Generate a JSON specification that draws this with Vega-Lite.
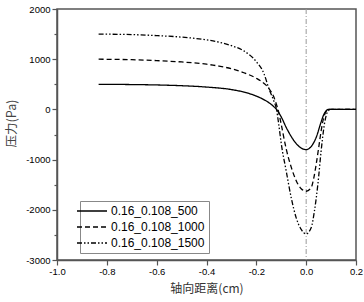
{
  "$schema": "https://vega.github.io/schema/vega-lite/v6.json",
  "width": 299,
  "height": 251,
  "autosize": {"type": "none"},
  "padding": {"left": 57, "top": 9, "right": 8, "bottom": 42},
  "config": {
    "view": {"stroke": "#555", "strokeWidth": 1.5},
    "font": "Liberation Sans"
  },
  "layer": [
    {
      "data": {"values": [{"x": 0}]},
      "mark": {"type": "rule", "color": "#999", "strokeWidth": 1, "strokeDash": [5, 2, 1, 2]},
      "encoding": {
        "x": {"field": "x", "type": "quantitative", "scale": {"domain": [-1, 0.2], "nice": false}}
      }
    },
    {
      "data": {"values": [
        {"series": "0.16_0.108_500", "x": -0.833, "p": 500},
        {"series": "0.16_0.108_500", "x": -0.7, "p": 495},
        {"series": "0.16_0.108_500", "x": -0.6, "p": 487},
        {"series": "0.16_0.108_500", "x": -0.5, "p": 472},
        {"series": "0.16_0.108_500", "x": -0.4, "p": 445},
        {"series": "0.16_0.108_500", "x": -0.3, "p": 395},
        {"series": "0.16_0.108_500", "x": -0.25, "p": 345},
        {"series": "0.16_0.108_500", "x": -0.2, "p": 265},
        {"series": "0.16_0.108_500", "x": -0.17, "p": 195},
        {"series": "0.16_0.108_500", "x": -0.15, "p": 135},
        {"series": "0.16_0.108_500", "x": -0.13, "p": 55},
        {"series": "0.16_0.108_500", "x": -0.12, "p": 5},
        {"series": "0.16_0.108_500", "x": -0.1, "p": -150},
        {"series": "0.16_0.108_500", "x": -0.08, "p": -360},
        {"series": "0.16_0.108_500", "x": -0.06, "p": -540},
        {"series": "0.16_0.108_500", "x": -0.04, "p": -680},
        {"series": "0.16_0.108_500", "x": -0.02, "p": -770},
        {"series": "0.16_0.108_500", "x": 0, "p": -800},
        {"series": "0.16_0.108_500", "x": 0.02, "p": -740},
        {"series": "0.16_0.108_500", "x": 0.04, "p": -560},
        {"series": "0.16_0.108_500", "x": 0.06, "p": -250},
        {"series": "0.16_0.108_500", "x": 0.07, "p": -110},
        {"series": "0.16_0.108_500", "x": 0.08, "p": -30},
        {"series": "0.16_0.108_500", "x": 0.09, "p": 0},
        {"series": "0.16_0.108_500", "x": 0.2, "p": 0},
        {"series": "0.16_0.108_1000", "x": -0.833, "p": 1000},
        {"series": "0.16_0.108_1000", "x": -0.7, "p": 990},
        {"series": "0.16_0.108_1000", "x": -0.6, "p": 972},
        {"series": "0.16_0.108_1000", "x": -0.5, "p": 945},
        {"series": "0.16_0.108_1000", "x": -0.4, "p": 900},
        {"series": "0.16_0.108_1000", "x": -0.35, "p": 862},
        {"series": "0.16_0.108_1000", "x": -0.3, "p": 810},
        {"series": "0.16_0.108_1000", "x": -0.25, "p": 730},
        {"series": "0.16_0.108_1000", "x": -0.2, "p": 620},
        {"series": "0.16_0.108_1000", "x": -0.17, "p": 520},
        {"series": "0.16_0.108_1000", "x": -0.15, "p": 420},
        {"series": "0.16_0.108_1000", "x": -0.13, "p": 250},
        {"series": "0.16_0.108_1000", "x": -0.12, "p": 110},
        {"series": "0.16_0.108_1000", "x": -0.11, "p": -60},
        {"series": "0.16_0.108_1000", "x": -0.1, "p": -300},
        {"series": "0.16_0.108_1000", "x": -0.08, "p": -790},
        {"series": "0.16_0.108_1000", "x": -0.06, "p": -1150},
        {"series": "0.16_0.108_1000", "x": -0.04, "p": -1420},
        {"series": "0.16_0.108_1000", "x": -0.02, "p": -1580},
        {"series": "0.16_0.108_1000", "x": 0, "p": -1630},
        {"series": "0.16_0.108_1000", "x": 0.02, "p": -1560},
        {"series": "0.16_0.108_1000", "x": 0.03, "p": -1380},
        {"series": "0.16_0.108_1000", "x": 0.04, "p": -1100},
        {"series": "0.16_0.108_1000", "x": 0.05, "p": -770},
        {"series": "0.16_0.108_1000", "x": 0.06, "p": -430},
        {"series": "0.16_0.108_1000", "x": 0.07, "p": -170},
        {"series": "0.16_0.108_1000", "x": 0.08, "p": -40},
        {"series": "0.16_0.108_1000", "x": 0.09, "p": 0},
        {"series": "0.16_0.108_1000", "x": 0.2, "p": 0},
        {"series": "0.16_0.108_1500", "x": -0.833, "p": 1500},
        {"series": "0.16_0.108_1500", "x": -0.7, "p": 1490},
        {"series": "0.16_0.108_1500", "x": -0.6, "p": 1470},
        {"series": "0.16_0.108_1500", "x": -0.5, "p": 1440},
        {"series": "0.16_0.108_1500", "x": -0.4, "p": 1385},
        {"series": "0.16_0.108_1500", "x": -0.35, "p": 1340},
        {"series": "0.16_0.108_1500", "x": -0.3, "p": 1270},
        {"series": "0.16_0.108_1500", "x": -0.25, "p": 1165},
        {"series": "0.16_0.108_1500", "x": -0.2, "p": 950},
        {"series": "0.16_0.108_1500", "x": -0.17, "p": 720},
        {"series": "0.16_0.108_1500", "x": -0.15, "p": 420},
        {"series": "0.16_0.108_1500", "x": -0.13, "p": 170},
        {"series": "0.16_0.108_1500", "x": -0.12, "p": 20},
        {"series": "0.16_0.108_1500", "x": -0.11, "p": -300},
        {"series": "0.16_0.108_1500", "x": -0.1, "p": -680},
        {"series": "0.16_0.108_1500", "x": -0.08, "p": -1230},
        {"series": "0.16_0.108_1500", "x": -0.06, "p": -1760},
        {"series": "0.16_0.108_1500", "x": -0.04, "p": -2160},
        {"series": "0.16_0.108_1500", "x": -0.02, "p": -2390},
        {"series": "0.16_0.108_1500", "x": 0, "p": -2480},
        {"series": "0.16_0.108_1500", "x": 0.02, "p": -2360},
        {"series": "0.16_0.108_1500", "x": 0.033, "p": -2030},
        {"series": "0.16_0.108_1500", "x": 0.047, "p": -1490},
        {"series": "0.16_0.108_1500", "x": 0.06, "p": -830},
        {"series": "0.16_0.108_1500", "x": 0.073, "p": -300},
        {"series": "0.16_0.108_1500", "x": 0.087, "p": -40},
        {"series": "0.16_0.108_1500", "x": 0.1, "p": 0},
        {"series": "0.16_0.108_1500", "x": 0.2, "p": 0}
      ]},
      "mark": {"type": "line", "color": "#000", "strokeWidth": 1.3, "interpolate": "monotone"},
      "encoding": {
        "x": {
          "field": "x", "type": "quantitative",
          "scale": {"domain": [-1, 0.2], "nice": false},
          "axis": {
            "title": "轴向距离(cm)",
            "titleFont": "Noto Sans CJK SC", "titleFontSize": 12, "titleFontWeight": "normal", "titleColor": "#333",
            "titleX": 149.5, "titleY": 28, "titleBaseline": "middle", "titleAlign": "center",
            "values": [-1, -0.9, -0.8, -0.7, -0.6, -0.5, -0.4, -0.3, -0.2, -0.1, 0, 0.1, 0.2],
            "labelExpr": "abs(round(datum.value*10))%2==1 ? '' : replace(format(datum.value, '.1f'), '\u2212', '-')",
            "labelFontSize": 9.5, "labelColor": "#000", "labelPadding": 1, "labelFlush": false,
            "grid": false,
            "domainColor": "#555", "domainWidth": 1.5,
            "tickColor": "#555", "tickWidth": 1.2,
            "tickSize": {"condition": {"test": "abs(round(datum.value*10))%2==1", "value": 3}, "value": 5}
          }
        },
        "y": {
          "field": "p", "type": "quantitative",
          "scale": {"domain": [-3000, 2000], "nice": false},
          "axis": {
            "title": "压力(Pa)",
            "titleFont": "Noto Sans CJK SC", "titleFontSize": 12.5, "titleFontWeight": "normal", "titleColor": "#444",
            "titleX": -46, "titleY": 114, "titleAngle": -90, "titleBaseline": "middle", "titleAlign": "center",
            "values": [-3000, -2500, -2000, -1500, -1000, -500, 0, 500, 1000, 1500, 2000],
            "labelExpr": "abs(round(datum.value/500))%2==1 ? '' : replace(format(datum.value, 'd'), '\u2212', '-')",
            "labelFontSize": 9.5, "labelColor": "#000", "labelPadding": 2, "labelFlush": false,
            "grid": false,
            "domainColor": "#555", "domainWidth": 1.5,
            "tickColor": "#555", "tickWidth": 1.2,
            "tickSize": {"condition": {"test": "abs(round(datum.value/500))%2==1", "value": 3}, "value": 5}
          }
        },
        "strokeDash": {
          "field": "series", "type": "nominal",
          "scale": {
            "domain": ["0.16_0.108_500", "0.16_0.108_1000", "0.16_0.108_1500"],
            "range": [[1, 0], [5, 3], [5, 2, 1.5, 2, 1.5, 2]]
          },
          "legend": {
            "title": null,
            "orient": "none", "legendX": 23, "legendY": 192,
            "symbolType": "M-3,0H3", "symbolSize": 100, "symbolStrokeColor": "#000", "symbolStrokeWidth": 1.3,
            "symbolOffset": 2,
            "labelFont": "Liberation Sans", "labelFontSize": 12, "labelColor": "#000", "labelOffset": 13,
            "rowPadding": 4, "padding": 4,
            "fillColor": "#fff", "strokeColor": "#888", "cornerRadius": 0
          }
        }
      }
    }
  ]
}
